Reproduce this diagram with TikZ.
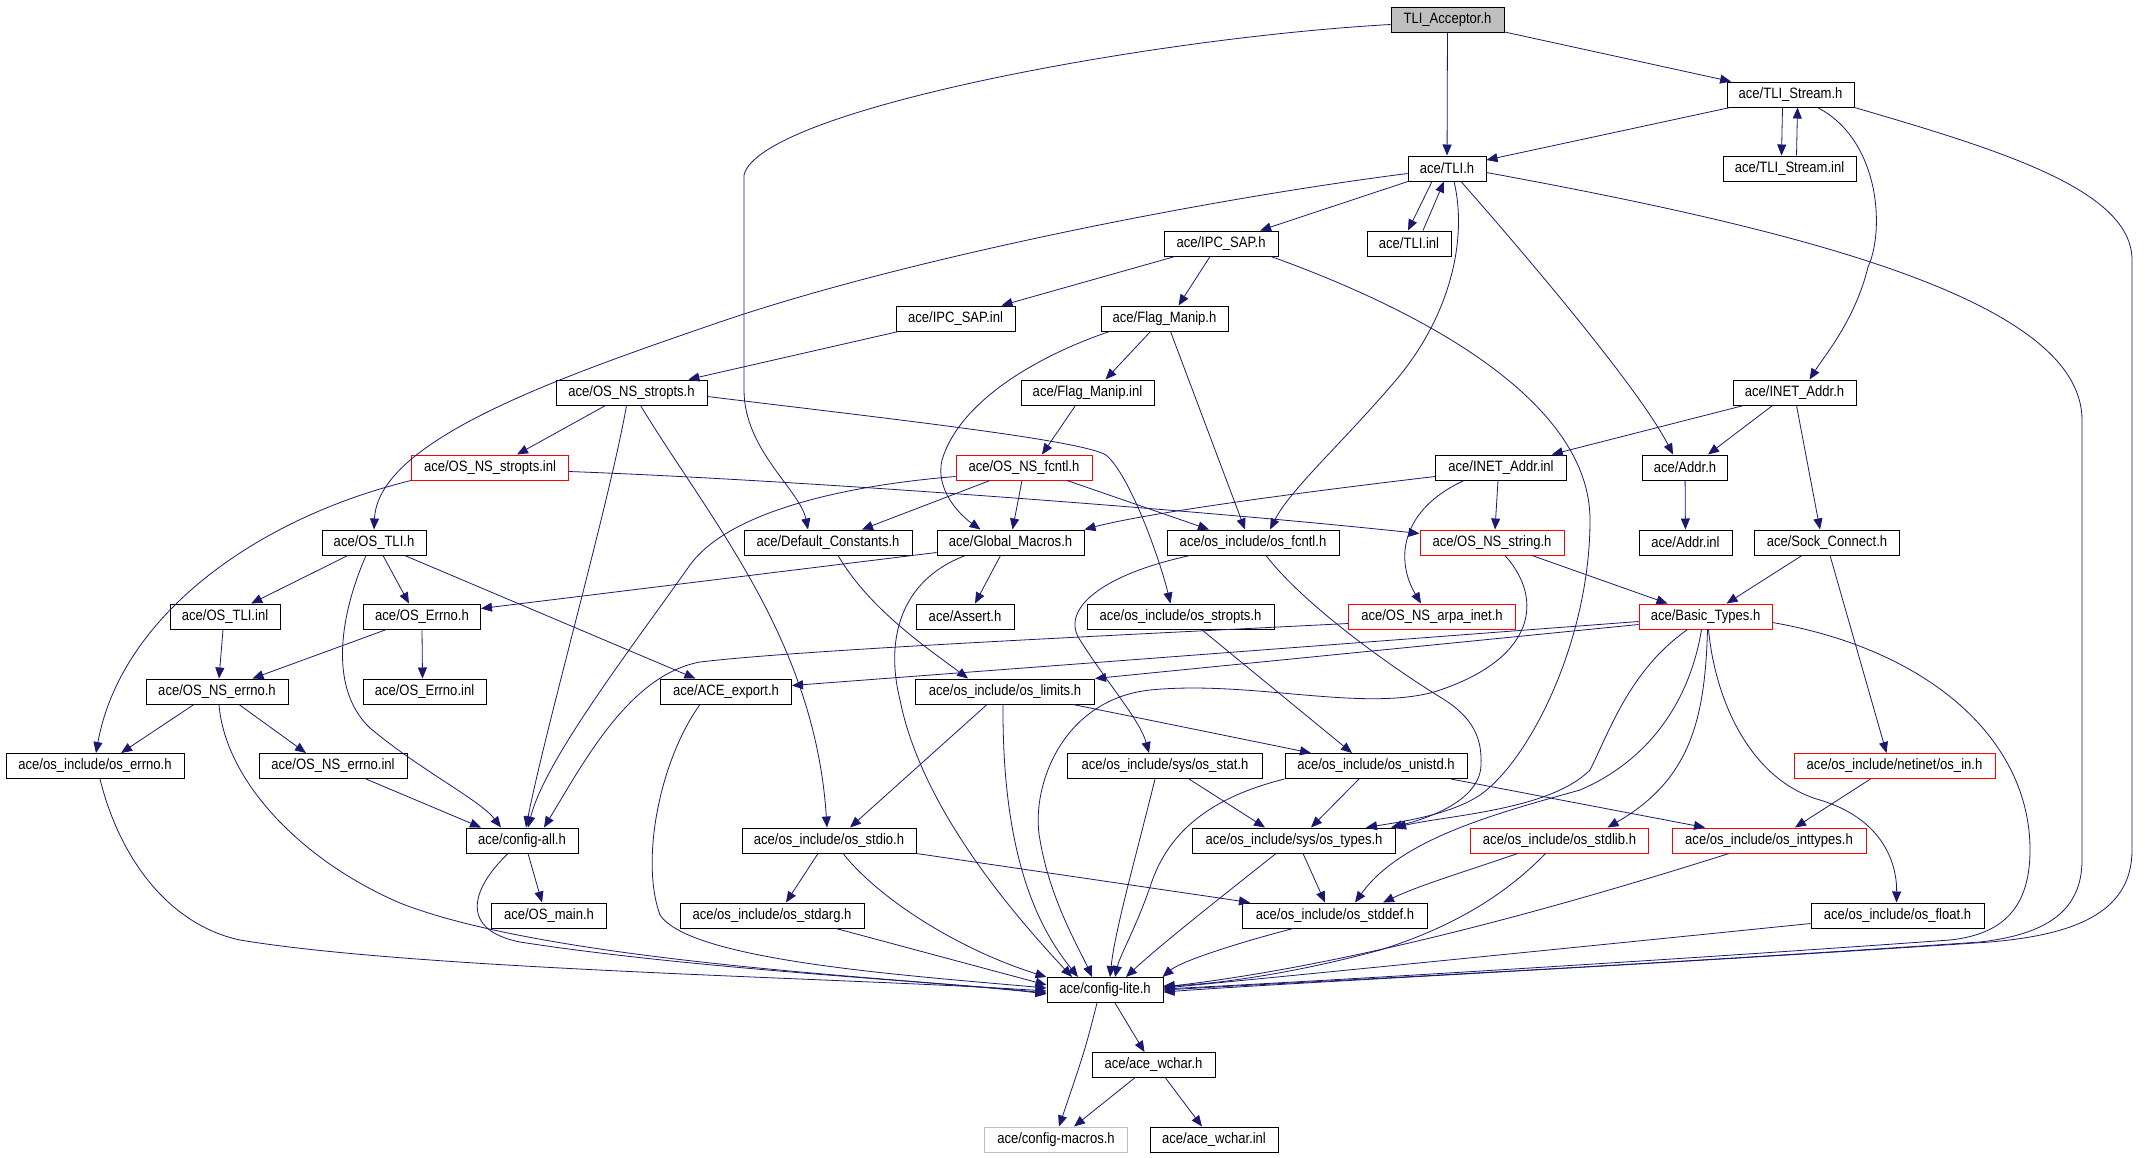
\documentclass[tikz,border=0pt]{standalone}
\usepackage{fontspec}
\newfontfamily\nodefont[FakeStretch=0.87]{Liberation Sans}
\usetikzlibrary{arrows.meta}
\definecolor{edgec}{RGB}{25,25,112}
\definecolor{accfill}{RGB}{191,191,191}
\definecolor{graybd}{RGB}{191,191,191}
\tikzset{
 nd/.style={draw=black, line width=1pt, minimum height=25pt, inner sep=0pt, fill=white,
   font={\nodefont\fontsize{15pt}{17pt}\selectfont}, anchor=center},
 rd/.style={nd, draw=red},
 gy/.style={nd, draw=graybd},
 arr/.style={draw=edgec, line width=0.8pt, -{Triangle[length=11pt,width=9pt]}},
}
\begin{document}
\begin{tikzpicture}[x=1pt,y=-1pt]
\useasboundingbox[fill=white] (0,0) rectangle (2151,1157);
% nodes
\node[nd, fill=accfill, minimum width=113pt] (acc) at (1447.5,19.5) {TLI\_Acceptor.h};
\node[nd, minimum width=78pt] (tli) at (1447,168.5) {ace/TLI.h};
\node[nd, minimum width=127pt] (tlis) at (1790.5,94.5) {ace/TLI\_Stream.h};
\node[nd, minimum width=133pt] (tlisi) at (1789.5,168.5) {ace/TLI\_Stream.inl};
\node[nd, minimum width=114pt] (ipc) at (1221,243.5) {ace/IPC\_SAP.h};
\node[nd, minimum width=84pt] (tlii) at (1409,243.5) {ace/TLI.inl};
\node[nd, minimum width=119pt] (ipci) at (955.5,318.5) {ace/IPC\_SAP.inl};
\node[nd, minimum width=127pt] (flag) at (1164.5,318.5) {ace/Flag\_Manip.h};
\node[nd, minimum width=133pt] (flagi) at (1087.5,392.5) {ace/Flag\_Manip.inl};
\node[nd, minimum width=123pt] (inet) at (1794.5,392.5) {ace/INET\_Addr.h};
\node[nd, minimum width=151pt] (nsstr) at (631.5,392.5) {ace/OS\_NS\_stropts.h};
\node[rd, minimum width=157pt] (nsstri) at (490,467.5) {ace/OS\_NS\_stropts.inl};
\node[rd, minimum width=136pt] (nsfcntl) at (1024,467.5) {ace/OS\_NS\_fcntl.h};
\node[nd, minimum width=131pt] (ineti) at (1501,467.5) {ace/INET\_Addr.inl};
\node[nd, minimum width=85pt] (addr) at (1685,467.5) {ace/Addr.h};
\node[nd, minimum width=104pt] (ostli) at (374,542.5) {ace/OS\_TLI.h};
\node[nd, minimum width=168pt] (defc) at (828,542.5) {ace/Default\_Constants.h};
\node[nd, minimum width=147pt] (glob) at (1010.5,542.5) {ace/Global\_Macros.h};
\node[nd, minimum width=172pt] (fcntl) at (1253,542.5) {ace/os\_include/os\_fcntl.h};
\node[rd, minimum width=144pt] (nsstring) at (1492,542.5) {ace/OS\_NS\_string.h};
\node[nd, minimum width=93pt] (addri) at (1685.5,542.5) {ace/Addr.inl};
\node[nd, minimum width=145pt] (sock) at (1827,542.5) {ace/Sock\_Connect.h};
\node[nd, minimum width=110pt] (ostlii) at (225,616.5) {ace/OS\_TLI.inl};
\node[nd, minimum width=117pt] (errno) at (422,616.5) {ace/OS\_Errno.h};
\node[nd, minimum width=98pt] (assert) at (965,616.5) {ace/Assert.h};
\node[nd, minimum width=187pt] (stropts) at (1180.5,616.5) {ace/os\_include/os\_stropts.h};
\node[rd, minimum width=167pt] (arpa) at (1432,616.5) {ace/OS\_NS\_arpa\_inet.h};
\node[rd, minimum width=133pt] (basic) at (1705.5,616.5) {ace/Basic\_Types.h};
\node[nd, minimum width=142pt] (nserrno) at (217,691.5) {ace/OS\_NS\_errno.h};
\node[nd, minimum width=123pt] (errnoi) at (424.5,691.5) {ace/OS\_Errno.inl};
\node[nd, minimum width=131pt] (export) at (726,691.5) {ace/ACE\_export.h};
\node[nd, minimum width=179pt] (limits) at (1005,691.5) {ace/os\_include/os\_limits.h};
\node[nd, minimum width=178pt] (oserrno) at (95,766) {ace/os\_include/os\_errno.h};
\node[nd, minimum width=148pt] (nserrnoi) at (333,766) {ace/OS\_NS\_errno.inl};
\node[nd, minimum width=195pt] (stat) at (1165,766) {ace/os\_include/sys/os\_stat.h};
\node[nd, minimum width=182pt] (unistd) at (1376,766) {ace/os\_include/os\_unistd.h};
\node[rd, minimum width=201pt] (netin) at (1894.5,766) {ace/os\_include/netinet/os\_in.h};
\node[nd, minimum width=112pt] (cfgall) at (522,840.5) {ace/config-all.h};
\node[nd, minimum width=174pt] (stdio) at (829,840.5) {ace/os\_include/os\_stdio.h};
\node[nd, minimum width=203pt] (types) at (1294,840.5) {ace/os\_include/sys/os\_types.h};
\node[rd, minimum width=178pt] (stdlib) at (1559.5,840.5) {ace/os\_include/os\_stdlib.h};
\node[rd, minimum width=194pt] (inttypes) at (1769,840.5) {ace/os\_include/os\_inttypes.h};
\node[nd, minimum width=115pt] (osmain) at (549,915.5) {ace/OS\_main.h};
\node[nd, minimum width=184pt] (stdarg) at (772,915.5) {ace/os\_include/os\_stdarg.h};
\node[nd, minimum width=185pt] (stddef) at (1335,915.5) {ace/os\_include/os\_stddef.h};
\node[nd, minimum width=173pt] (float) at (1897.5,915.5) {ace/os\_include/os\_float.h};
\node[nd, minimum width=116pt] (lite) at (1105,990) {ace/config-lite.h};
\node[nd, minimum width=123pt] (wchar) at (1153.5,1065) {ace/ace\_wchar.h};
\node[gy, minimum width=143pt] (macros) at (1056,1139.5) {ace/config-macros.h};
\node[nd, minimum width=128pt] (wchari) at (1214,1139.5) {ace/ace\_wchar.inl};
% edges
\draw[arr] (acc) -- (tli);
\draw[arr] (acc) -- (tlis);
\draw[arr] ([yshift=-5pt]acc.west) .. controls (1150,38) and (760,110) .. (744,175) -- (744,390) .. controls (744,450) and (800,490) .. ([xshift=-20pt]defc.north);
\draw[arr] (tlis) -- (tli);
\draw[arr] ([xshift=-8pt]tlis.south) -- ([xshift=-8pt]tlisi.north);
\draw[arr] ([xshift=7pt]tlisi.north) -- ([xshift=7pt]tlis.south);
\draw[arr] ([xshift=27pt]tlis.south) .. controls (1880,140) and (1885,230) .. (1868,267) .. controls (1855,320) and (1825,355) .. ([xshift=15pt]inet.north);
\draw[arr] (tlis.south east) .. controls (2000,150) and (2132,190) .. (2132,260) -- (2132,850) .. controls (2132,915) and (2070,935) .. (1990,942) .. controls (1600,968) and (1300,982) .. ([yshift=-2pt]lite.east);
\draw[arr] ([xshift=-15pt]tli.south) -- ([xshift=-1pt]tlii.north);
\draw[arr] ([xshift=14pt]tlii.north) -- ([xshift=-3pt]tli.south);
\draw[arr] (tli) -- (ipc);
\draw[arr] ([yshift=-5pt]tli.west) .. controls (1200,200) and (900,260) .. (717,323) .. controls (560,377) and (378,440) .. (ostli.north);
\draw[arr] ([xshift=7pt]tli.south) .. controls (1468,240) and (1450,320) .. (1390,387) .. controls (1340,445) and (1290,490) .. ([xshift=17pt]fcntl.north);
\draw[arr] ([xshift=14pt]tli.south) .. controls (1530,260) and (1640,390) .. ([xshift=-12pt]addr.north);
\draw[arr] ([yshift=-4pt]tli.east) .. controls (1800,230) and (2082,300) .. (2082,420) -- (2082,860) .. controls (2082,915) and (2040,935) .. (1980,942) .. controls (1600,968) and (1300,982) .. (lite.east);
\draw[arr] (ipc) -- (ipci);
\draw[arr] ([xshift=-11pt]ipc.south) -- ([xshift=14pt]flag.north);
\draw[arr] ([xshift=50pt]ipc.south) .. controls (1420,310) and (1590,400) .. (1590,520) .. controls (1590,640) and (1530,760) .. (1480,795) .. controls (1450,815) and (1400,822) .. ([xshift=-30pt]types.north east);
\draw[arr] (ipci) -- (nsstr);
\draw[arr] ([xshift=-14pt]flag.south) -- ([xshift=18pt]flagi.north);
\draw[arr] ([xshift=-55pt]flag.south) .. controls (1040,355) and (960,400) .. (942,460) .. controls (935,490) and (960,515) .. ([xshift=-30pt]glob.north);
\draw[arr] ([xshift=6pt]flag.south) -- ([xshift=-8pt]fcntl.north);
\draw[arr] ([xshift=-12pt]flagi.south) -- ([xshift=18pt]nsfcntl.north);
\draw[arr] ([xshift=-26pt]nsstr.south) -- ([xshift=27pt]nsstri.north);
\draw[arr] ([xshift=-5pt]nsstr.south) .. controls (610,500) and (545,730) .. ([xshift=4pt]cfgall.north);
\draw[arr] ([xshift=9pt]nsstr.south) .. controls (710,520) and (815,640) .. ([xshift=-2pt]stdio.north);
\draw[arr] ([yshift=-4pt]nsstr.east) .. controls (900,420) and (1080,440) .. (1106,455) .. controls (1130,475) and (1160,560) .. ([xshift=-10pt]stropts.north);
\draw[arr] ([yshift=-4pt]nsstri.east) .. controls (800,480) and (1200,510) .. ([yshift=9pt]nsstring.west);
\draw[arr] (nsstri.south west) .. controls (250,520) and (120,620) .. ([xshift=1pt]oserrno.north);
\draw[arr] (nsfcntl) -- (defc);
\draw[arr] ([xshift=-2pt]nsfcntl.south) -- ([xshift=2pt]glob.north);
\draw[arr] ([xshift=43pt]nsfcntl.south) -- ([xshift=-44pt]fcntl.north);
\draw[arr] ([yshift=-9pt]nsfcntl.west) .. controls (850,485) and (730,510) .. (690,565) .. controls (630,650) and (545,760) .. ([xshift=6pt]cfgall.north);
\draw[arr] (inet) -- (ineti);
\draw[arr] ([xshift=-22pt]inet.south) -- ([xshift=23pt]addr.north);
\draw[arr] ([xshift=2pt]inet.south) -- ([xshift=-7pt]sock.north);
\draw[arr] ([yshift=-9pt]ineti.west) .. controls (1320,490) and (1150,512) .. (glob.north east);
\draw[arr] ([xshift=-3pt]ineti.south) -- ([xshift=3pt]nsstring.north);
\draw[arr] ([xshift=-37pt]ineti.south) .. controls (1400,510) and (1395,560) .. ([xshift=-11pt]arpa.north);
\draw[arr] (addr) -- (addri);
\draw[arr] ([xshift=-25pt]sock.south) -- ([xshift=21pt]basic.north);
\draw[arr] ([xshift=3pt]sock.south) -- ([xshift=-8pt]netin.north);
\draw[arr] ([xshift=40pt]nsstring.south) -- ([xshift=-38pt]basic.north);
\draw[arr] ([xshift=13pt]nsstring.south) .. controls (1545,600) and (1535,660) .. (1434,692) .. controls (1360,712) and (1250,680) .. (1150,690) .. controls (1060,700) and (1030,790) .. (1040,840) .. controls (1050,900) and (1080,950) .. ([xshift=-13pt]lite.north);
\draw[arr] (ostli) -- (ostlii);
\draw[arr] ([xshift=9pt]ostli.south) -- ([xshift=-13pt]errno.north);
\draw[arr] (ostli) -- (export);
\draw[arr] ([xshift=-8pt]ostli.south) .. controls (338,620) and (330,690) .. (370,728) .. controls (420,770) and (480,800) .. ([xshift=-21pt]cfgall.north);
\draw[arr] ([yshift=-10pt]glob.west) -- ([yshift=8pt]errno.east);
\draw[arr] ([xshift=-10pt]glob.south) -- ([xshift=10pt]assert.north);
\draw[arr] ([xshift=-45pt]glob.south) .. controls (900,580) and (885,640) .. (900,700) .. controls (920,800) and (1000,900) .. ([xshift=-33pt]lite.north);
\draw[arr] ([xshift=10pt]defc.south) .. controls (870,610) and (930,650) .. ([xshift=-37pt]limits.north);
\draw[arr] ([xshift=-63pt]fcntl.south) .. controls (1100,575) and (1060,610) .. (1080,640) .. controls (1105,680) and (1140,720) .. ([xshift=-16pt]stat.north);
\draw[arr] ([xshift=13pt]fcntl.south) .. controls (1300,600) and (1380,660) .. (1440,697) .. controls (1475,718) and (1482,740) .. (1481,765) .. controls (1480,800) and (1430,818) .. ([xshift=-5pt]types.north east);
\draw[arr] ([xshift=21pt]stropts.south) -- ([xshift=-24pt]unistd.north);
\draw[arr] ([yshift=-7pt]arpa.west) .. controls (1100,636) and (800,650) .. (700,662) .. controls (630,675) and (585,760) .. ([xshift=22pt]cfgall.north);
\draw[arr] ([yshift=-5pt]basic.west) -- ([yshift=6pt]export.east);
\draw[arr] ([yshift=-8pt]basic.west) -- (limits.north east);
\draw[arr] ([xshift=-18pt]basic.south) .. controls (1630,670) and (1610,730) .. (1590,770) .. controls (1550,810) and (1450,815) .. ([xshift=-1pt]types.north east);
\draw[arr] ([xshift=-4pt]basic.south) .. controls (1690,700) and (1650,760) .. (1580,790) .. controls (1490,815) and (1400,840) .. ([xshift=20pt]stddef.north);
\draw[arr] ([xshift=2pt]basic.south) .. controls (1705,720) and (1690,780) .. ([xshift=48pt]stdlib.north);
\draw[arr] ([xshift=3pt]basic.south) .. controls (1715,700) and (1750,780) .. (1820,800) .. controls (1880,818) and (1897,860) .. ([xshift=-1pt]float.north);
\draw[arr] ([yshift=-6pt]basic.east) .. controls (1930,650) and (2030,740) .. (2030,850) .. controls (2030,915) and (1995,935) .. (1950,940) .. controls (1600,965) and (1300,982) .. ([yshift=1pt]lite.east);
\draw[arr] ([xshift=-2pt]ostlii.south) -- ([xshift=2pt]nserrno.north);
\draw[arr] (errno) -- (nserrno);
\draw[arr] (errno.south) -- ([xshift=-2pt]errnoi.north);
\draw[arr] ([xshift=-23pt]nserrno.south) -- ([xshift=26pt]oserrno.north);
\draw[arr] ([xshift=22pt]nserrno.south) -- ([xshift=-27pt]nserrnoi.north);
\draw[arr] ([xshift=2pt]nserrno.south) .. controls (225,780) and (300,860) .. (400,903) .. controls (550,962) and (900,978) .. ([yshift=-3pt]lite.west);
\draw[arr] ([xshift=5pt]oserrno.south) .. controls (120,860) and (170,925) .. (240,940) .. controls (420,970) and (850,978) .. ([yshift=-1pt]lite.west);
\draw[arr] ([xshift=33pt]nserrnoi.south) -- ([xshift=-41pt]cfgall.north);
\draw[arr] ([xshift=-26pt]export.south) .. controls (660,760) and (640,860) .. (660,915) .. controls (690,960) and (900,975) .. ([yshift=2pt]lite.west);
\draw[arr] ([xshift=-18pt]limits.south) -- ([xshift=21pt]stdio.north);
\draw[arr] ([xshift=-2pt]limits.south) .. controls (1002,860) and (1040,930) .. ([xshift=-27pt]lite.north);
\draw[arr] ([xshift=68pt]limits.south) -- ([xshift=-65pt]unistd.north);
\draw[arr] ([xshift=24pt]stat.south) -- ([xshift=-29pt]types.north);
\draw[arr] ([xshift=-10pt]stat.south) .. controls (1135,860) and (1115,930) .. ([xshift=5pt]lite.north);
\draw[arr] ([xshift=-17pt]unistd.south) -- ([xshift=17pt]types.north);
\draw[arr] (unistd.south west) .. controls (1200,800) and (1165,840) .. (1150,887) .. controls (1135,930) and (1120,955) .. ([xshift=10pt]lite.north);
\draw[arr] ([xshift=75pt]unistd.south) -- ([xshift=-64pt]inttypes.north);
\draw[arr] ([xshift=-24pt]netin.south) -- ([xshift=26pt]inttypes.north);
\draw[arr] ([xshift=6pt]cfgall.south) -- ([xshift=-7pt]osmain.north);
\draw[arr] ([xshift=-14pt]cfgall.south) .. controls (470,890) and (460,930) .. (520,942) .. controls (700,970) and (950,982) .. ([yshift=-4pt]lite.west);
\draw[arr] ([xshift=-11pt]stdio.south) -- ([xshift=14pt]stdarg.north);
\draw[arr] (stdio.south east) -- ([xshift=8pt]stddef.north west);
\draw[arr] ([xshift=14pt]stdio.south) .. controls (880,900) and (960,950) .. (lite.north west);
\draw[arr] ([xshift=9pt]types.south) -- ([xshift=-10pt]stddef.north);
\draw[arr] ([xshift=-18pt]types.south) .. controls (1230,890) and (1160,945) .. ([xshift=21pt]lite.north);
\draw[arr] ([xshift=-42pt]stdlib.south) .. controls (1470,870) and (1420,885) .. ([xshift=48pt]stddef.north);
\draw[arr] ([xshift=-14pt]stdlib.south) .. controls (1510,890) and (1460,925) .. (1380,950) .. controls (1300,972) and (1220,984) .. ([yshift=4pt]lite.east);
\draw[arr] ([xshift=-40pt]inttypes.south) .. controls (1550,910) and (1350,965) .. ([yshift=3pt]lite.east);
\draw[arr] ([xshift=64pt]stdarg.south) -- ([yshift=5pt]lite.west);
\draw[arr] ([xshift=-42pt]stddef.south) .. controls (1230,945) and (1180,962) .. ([xshift=-1pt]lite.north east);
\draw[arr] ([yshift=-8pt]float.west) .. controls (1600,945) and (1300,975) .. ([yshift=2pt]lite.east);
\draw[arr] ([xshift=10pt]lite.south) -- ([xshift=-9pt]wchar.north);
\draw[arr] ([xshift=-8pt]lite.south) .. controls (1085,1050) .. ([xshift=3pt]macros.north);
\draw[arr] ([xshift=-19pt]wchar.south) -- ([xshift=18pt]macros.north);
\draw[arr] ([xshift=12pt]wchar.south) -- ([xshift=-12pt]wchari.north);
\end{tikzpicture}
\end{document}
